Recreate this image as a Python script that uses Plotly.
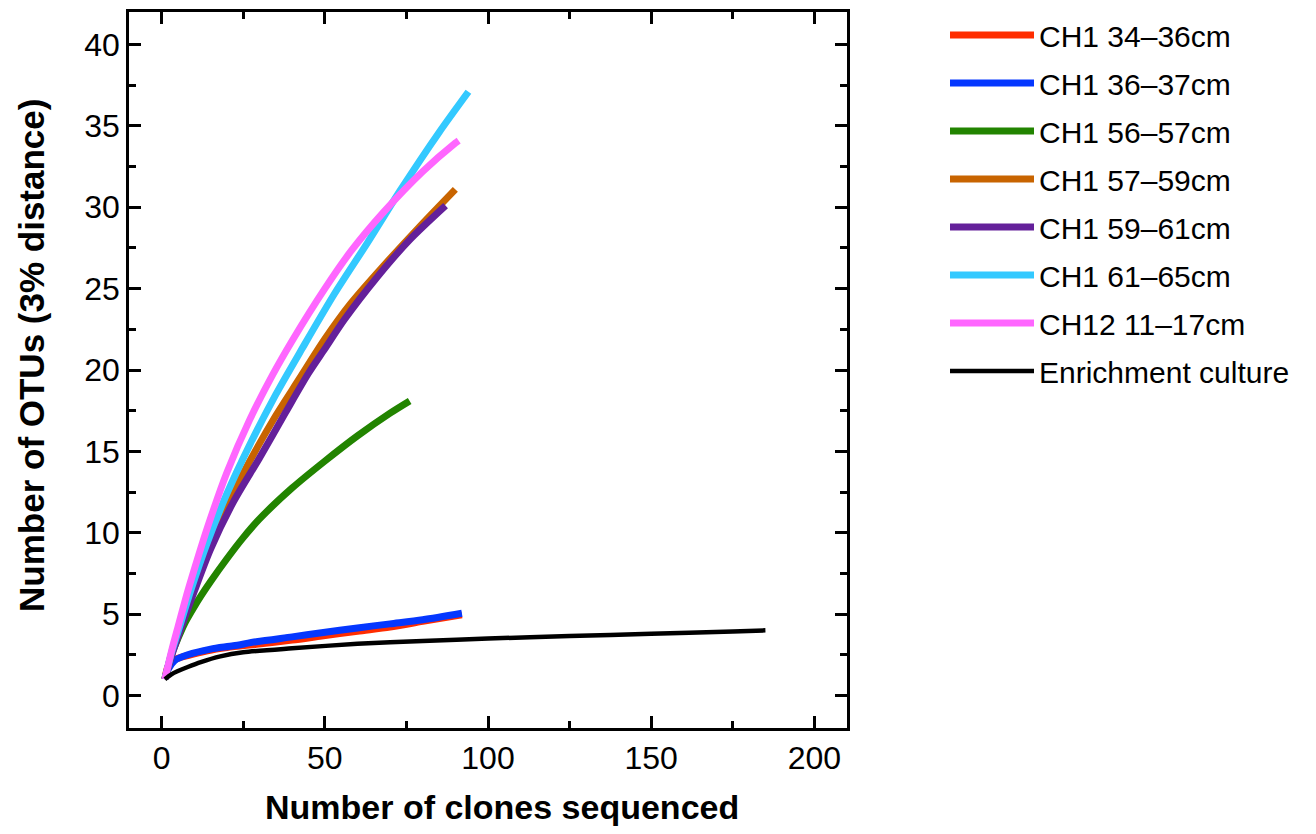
import plotly.graph_objects as go

# ---- data ----
names = ["CH1 34–36cm", "CH1 36–37cm", "CH1 56–57cm", "CH1 57–59cm",
         "CH1 59–61cm", "CH1 61–65cm", "CH12 11–17cm", "Enrichment culture"]
colors = ["#ff2d00", "#0537ff", "#228400", "#c86400",
          "#64209a", "#33c9ff", "#ff66ff", "#000000"]

x_ch1_34 = [1, 2, 4, 8, 14, 20, 29, 40, 49, 60, 70, 80, 92]
y_ch1_34 = [1, 1.8, 2.2, 2.45, 2.75, 2.95, 3.15, 3.4, 3.65, 3.95, 4.2, 4.55, 4.95]

x_ch1_36 = [1, 2, 4, 8, 15, 22, 29, 40, 49, 60, 70, 80, 92]
y_ch1_36 = [1, 1.6, 2.15, 2.5, 2.85, 3.05, 3.3, 3.6, 3.85, 4.15, 4.4, 4.65, 5.05]

x_ch1_56 = [1, 3, 5, 7, 10, 12, 15, 20, 25, 30, 40, 50, 60, 70, 76]
y_ch1_56 = [1, 2.5, 3.5, 4.4, 5.45, 6.1, 7.0, 8.4, 9.7, 10.85, 12.75, 14.4, 15.95, 17.35, 18.1]

x_ch1_57 = [1, 3, 5, 10, 15, 20, 27, 35, 42, 50, 58, 68, 79, 90]
y_ch1_57 = [1, 2.5, 3.8, 6.7, 9.4, 11.7, 14.4, 17.2, 19.4, 21.9, 24.1, 26.4, 28.8, 31.1]

x_ch1_59 = [1, 3, 5, 10, 15, 22, 30, 38, 45, 50, 56, 66, 76, 87]
y_ch1_59 = [1, 2.4, 3.6, 6.4, 9.0, 11.9, 14.6, 17.4, 19.8, 21.3, 23.1, 25.7, 28.0, 30.1]

x_ch1_61 = [1, 3, 5, 9, 14, 20, 27, 35, 43, 53, 63, 73, 85, 94]
y_ch1_61 = [1, 2.6, 3.9, 6.5, 9.4, 12.4, 15.4, 18.5, 21.3, 24.7, 27.8, 31.0, 34.6, 37.1]

x_ch12 = [1, 3, 5, 8, 11, 14, 20, 27, 34, 40, 50, 58, 68, 80, 90, 91]
y_ch12 = [1, 2.7, 4.2, 6.4, 8.4, 10.3, 13.7, 16.95, 19.7, 21.8, 25.0, 27.3, 29.7, 32.2, 33.95, 34.1]

x_enrich = [1, 3, 5, 8, 12, 18, 25, 40, 60, 80, 100, 125, 150, 175, 185]
y_enrich = [1, 1.3, 1.5, 1.75, 2.05, 2.4, 2.65, 2.9, 3.17, 3.35, 3.5, 3.65, 3.79, 3.93, 4.0]

xs = [x_ch1_34, x_ch1_36, x_ch1_56, x_ch1_57, x_ch1_59, x_ch1_61, x_ch12, x_enrich]
ys = [y_ch1_34, y_ch1_36, y_ch1_56, y_ch1_57, y_ch1_59, y_ch1_61, y_ch12, y_enrich]
widths = [7, 7, 7, 7, 7, 7, 7, 4.5]

x_tick_vals = [0, 50, 100, 150, 200]
y_tick_vals = [0, 5, 10, 15, 20, 25, 30, 35, 40]

x_title = "Number of clones sequenced"
y_title = "Number of OTUs (3% distance)"

FONT = "Liberation Sans, Arial, Helvetica"

fig = go.Figure()
for n, c, xv, yv, w in zip(names, colors, xs, ys, widths):
    fig.add_trace(go.Scatter(x=xv, y=yv, mode="lines", name=n, legendgroup=n,
                             line=dict(color=c, width=w, shape="spline", smoothing=0.8)))

axis_common = dict(
    showline=True, linecolor="black", linewidth=2.5, mirror="allticks",
    ticks="inside", ticklen=12, tickwidth=2.5, tickcolor="black",
    showgrid=False, zeroline=False,
    tickfont=dict(family=FONT, size=32, color="black"),
)

fig.update_xaxes(**axis_common, range=[-10, 210], tickvals=x_tick_vals,
                 minor=dict(dtick=25, tick0=0, ticks="inside", ticklen=7, tickwidth=2.5, tickcolor="black"),
                 ticklabelstandoff=0)
fig.update_yaxes(**axis_common, range=[-2, 42], tickvals=y_tick_vals,
                 minor=dict(dtick=2.5, tick0=0, ticks="inside", ticklen=7, tickwidth=2.5, tickcolor="black"),
                 ticklabelstandoff=0)

title_font = dict(family=FONT, size=34, color="black", weight="bold")
fig.add_annotation(text=x_title, xref="paper", yref="paper", x=0.5195, y=0,
                   xanchor="center", yanchor="middle", yshift=-79, showarrow=False,
                   font=title_font)
fig.add_annotation(text=y_title, xref="paper", yref="paper", x=0, y=0.5196,
                   xanchor="center", yanchor="middle", xshift=-97, textangle=-90,
                   showarrow=False, font=dict(family=FONT, size=35, color="black", weight="bold"))

fig.update_layout(
    width=1300, height=818,
    margin=dict(l=121, r=461, t=4, b=98, autoexpand=False),
    plot_bgcolor="white", paper_bgcolor="white",
    legend=dict(x=1.1365, xanchor="left", y=1.0042, yanchor="top",
                font=dict(family=FONT, size=30, color="black"),
                tracegroupgap=6, itemwidth=84, bgcolor="rgba(0,0,0,0)"),
)

fig.write_html("out.html")
